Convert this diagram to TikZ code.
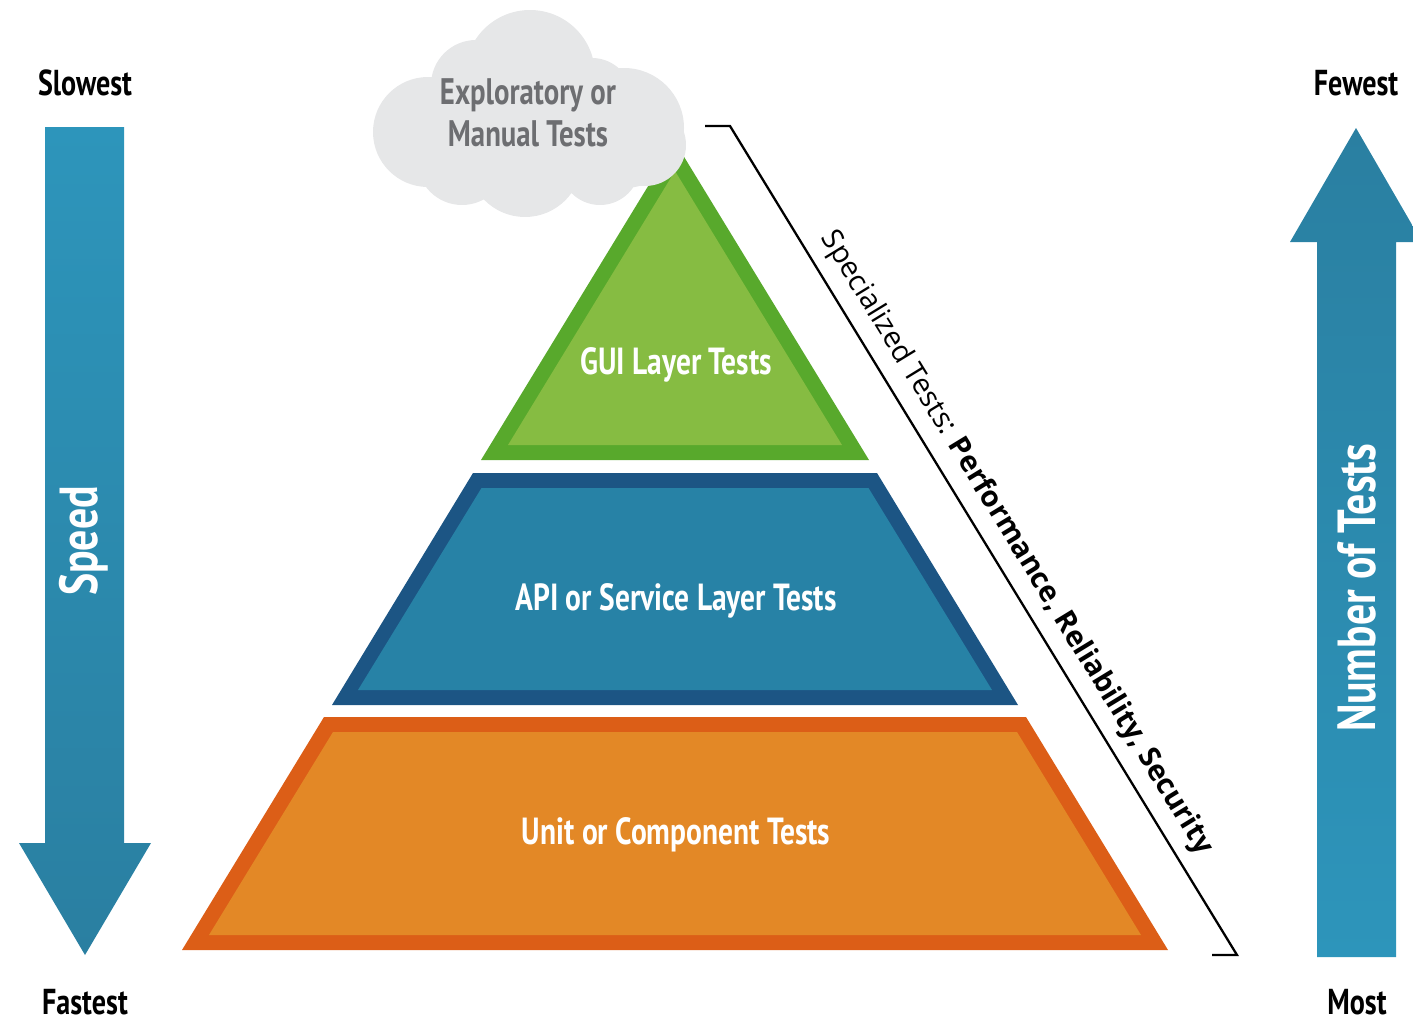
\documentclass[tikz,border=0pt]{standalone}
\usepackage{fontspec}
\setmainfont{PT Sans}
\newfontfamily\condfont[FakeStretch=0.78]{PT Sans}
\newfontfamily\specfont{Open Sans}

\definecolor{guiouter}{HTML}{58A92C}
\definecolor{guiinner}{HTML}{86BC42}
\definecolor{apiouter}{HTML}{1C5584}
\definecolor{apiinner}{HTML}{2782A6}
\definecolor{unitouter}{HTML}{DC5E17}
\definecolor{unitinner}{HTML}{E38826}
\definecolor{arrowlight}{HTML}{2D95BB}
\definecolor{arrowdark}{HTML}{2A7FA1}
\definecolor{cloudgray}{HTML}{E6E7E8}
\definecolor{cloudtext}{HTML}{6D6E71}

\begin{document}
\begin{tikzpicture}[x=0.02cm, y=-0.02cm,
    layertext/.style={font=\condfont\bfseries\fontsize{21.5}{24}\selectfont, text=white},
    endtext/.style={font=\condfont\bfseries\fontsize{20.5}{23}\selectfont, text=black, inner sep=0pt},
    arrowtext/.style={font=\condfont\bfseries\fontsize{30.5}{34}\selectfont, text=white, rotate=90},
    cloudlabel/.style={font=\condfont\bfseries\fontsize{21}{24}\selectfont, text=cloudtext, align=center},
    bigarrow/.style={top color=arrowlight, bottom color=arrowdark, draw=none}]
    \useasboundingbox (0,0) rectangle (1413,1021);

    % pyramid layers
    \fill[guiouter] (675,142) -- (869,460) -- (481,460) -- cycle;
    \fill[guiinner] (675,171) -- (842,445) -- (508,445) -- cycle;
    \fill[apiouter] (473,473) -- (877,473) -- (1018,705) -- (332,705) -- cycle;
    \fill[apiinner] (481.5,488) -- (868.5,488) -- (992,690) -- (358,690) -- cycle;
    \fill[unitouter] (324,717) -- (1026,717) -- (1168,950) -- (182,950) -- cycle;
    \fill[unitinner] (333,732) -- (1017,732) -- (1141,935) -- (209,935) -- cycle;

    % cloud
    \fill[cloudgray] (428,132) circle (55) (476,85) circle (45) (530,75) circle (65)
        (592,98) circle (40) (624,128) circle (60) (525,160) circle (57)
        (462,160) circle (45) (600,165) circle (40) (645,145) circle (41)
        (530,125) ellipse (120 and 60);

    \node[layertext] (gui) at (676,365) {GUI Layer Tests};
    \node[layertext] (api) at (676,601) {API or Service Layer Tests};
    \node[layertext] (unit) at (676,835) {Unit or Component Tests};
    \node[cloudlabel] (manual) at (528,113) {Exploratory or\\Manual Tests};

    % arrows
    \shade[bigarrow] (45,127) -- (124,127) -- (124,843) -- (151,843) -- (85,955)
        -- (19,843) -- (45,843) -- cycle;
    \shade[bigarrow, top color=arrowdark, bottom color=arrowlight] (1356,128) -- (1422,242)
        -- (1396,242) -- (1396,957) -- (1317,957) -- (1317,242) -- (1290,242) -- cycle;
    \node[arrowtext] (speed) at (84,541) {Speed};
    \node[arrowtext] (number) at (1357,588) {Number of Tests};

    \node[endtext] (slowest) at (85,83) {Slowest};
    \node[endtext] (fastest) at (85,1002) {Fastest};
    \node[endtext] (fewest) at (1356,83) {Fewest};
    \node[endtext] (most) at (1357,1002) {Most};

    % bracket
    \coordinate (b1) at (705,126);
    \coordinate (b2) at (730,126);
    \coordinate (b3) at (1237,955);
    \coordinate (b4) at (1212,955);
    \draw[line width=1.3pt] (b1) -- (b2) -- node[sloped, above=3pt, pos=0.52,
        font=\specfont\fontsize{16.5}{18}\selectfont] (special)
        {Specialized Tests: \textbf{Performance, Reliability, Security}} (b3) -- (b4);
\end{tikzpicture}
\end{document}
